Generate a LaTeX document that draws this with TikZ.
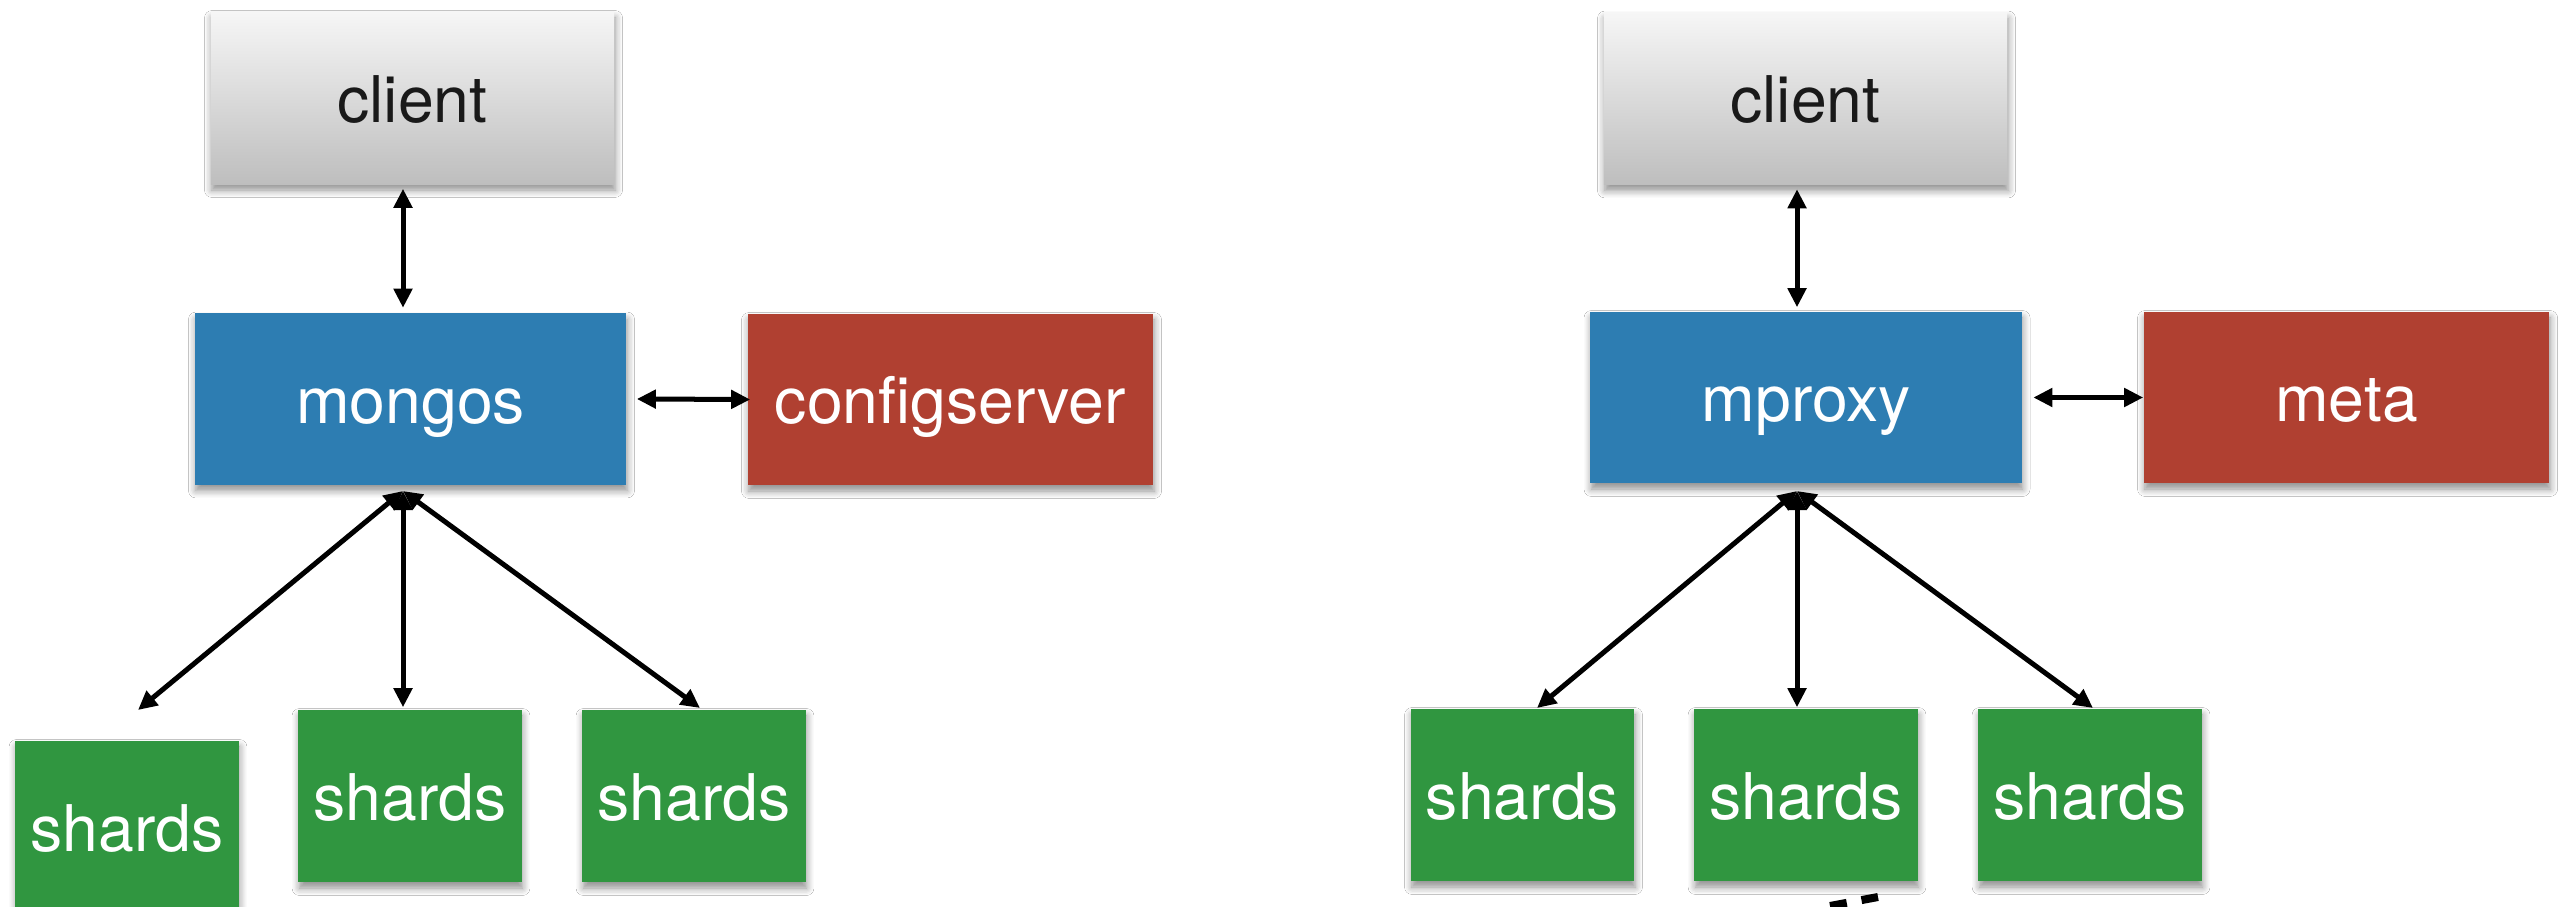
\documentclass[tikz,border=0pt]{standalone}
\usepackage{fontspec}
\setmainfont{TeX Gyre Heros}
\usetikzlibrary{arrows.meta,shadows.blur}
\definecolor{boxblue}{RGB}{45,125,178}
\definecolor{boxred}{RGB}{176,64,49}
\definecolor{boxgreen}{RGB}{48,150,64}
\definecolor{clienttop}{RGB}{246,246,246}
\definecolor{clientbot}{RGB}{190,190,190}
\tikzset{
  card/.style={rectangle, inner sep=0pt, font=\fontsize{18.3}{22}\selectfont,
    text height=0.48cm, text depth=0pt,
    blur shadow={shadow xshift=0.01cm, shadow yshift=-0.06cm, shadow blur steps=6, shadow opacity=45}},
  clientbox/.style={card, top color=clienttop, bottom color=clientbot,
    minimum width=4.03cm, minimum height=1.72cm, text=black!90},
  proxybox/.style={card, fill=boxblue, minimum width=4.31cm, minimum height=1.71cm, text=white},
  metabox/.style={card, fill=boxred, minimum width=4.05cm, minimum height=1.71cm, text=white},
  shardbox/.style={card, fill=boxgreen, minimum width=2.23cm, minimum height=1.72cm, text=white},
  biarrow/.style={line width=0.05cm, {Triangle[length=0.19cm,width=0.18cm]}-{Triangle[length=0.19cm,width=0.18cm]}},
  dashfrag/.style={line width=0.08cm, dash pattern=on 0.17cm off 0.15cm}
}
\begin{document}
\begin{tikzpicture}[x=0.01cm,y=-0.01cm]
\useasboundingbox (0,0) rectangle (2561,907);
\fill[white] (0,0) rectangle (2561,907);

% ---- left: mongos cluster ----
\node[clientbox] (clientL) at (412.5,98) {client};
\node[proxybox] (mongos) at (410.5,399) {mongos};
\node[metabox] (config) at (950.5,399.5) {configserver};
\node[shardbox] (shardL1) at (127,827) {shards};
\node[shardbox] (shardL2) at (410,796) {shards};
\node[shardbox] (shardL3) at (694,796) {shards};

\coordinate (hubL) at (403,491);
\coordinate (tipL1) at (138,710);
\coordinate (tipL3) at (700,708);

\draw[biarrow] ([yshift=-0.04cm]clientL.south -| hubL) -- ([yshift=0.05cm]mongos.north -| hubL);
\draw[biarrow] ([xshift=0.10cm]mongos.east) -- ([xshift=0.03cm]config.west);
\draw[biarrow] (hubL) -- (tipL1);
\draw[biarrow] (hubL) -- ([yshift=0.02cm]shardL2.north -| hubL);
\draw[biarrow] (hubL) -- (tipL3);

% ---- right: mproxy cluster ----
\node[clientbox] (clientR) at (1805.5,98.5) {client};
\node[proxybox] (mproxy) at (1806,397.5) {mproxy};
\node[metabox] (meta) at (2346.5,397.5) {meta};
\node[shardbox] (shardR1) at (1522.5,795) {shards};
\node[shardbox] (shardR2) at (1806,795) {shards};
\node[shardbox] (shardR3) at (2090,795) {shards};

\coordinate (hubR) at (1797,491);
\coordinate (tipR1) at (1537,708);
\coordinate (tipR3) at (2093,708);

\draw[biarrow] ([yshift=-0.04cm]clientR.south -| hubR) -- ([yshift=0.04cm]mproxy.north -| hubR);
\draw[biarrow] ([xshift=0.11cm]mproxy.east) -- (meta.west);
\draw[biarrow] (hubR) -- (tipR1);
\draw[biarrow] (hubR) -- ([yshift=0.01cm]shardR2.north -| hubR);
\draw[biarrow] (hubR) -- (tipR3);

% dashed stroke running off the lower edge
\coordinate (fragA) at (1830,906);
\coordinate (fragB) at (1878,897);
\draw[dashfrag] (fragA) -- (fragB);
\end{tikzpicture}
\end{document}
